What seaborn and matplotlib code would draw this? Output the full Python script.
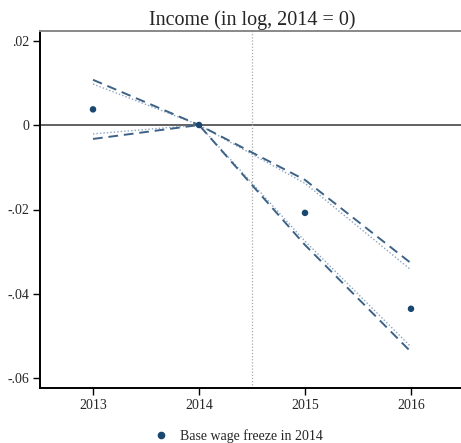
import matplotlib
matplotlib.use("Agg")
import matplotlib.pyplot as plt
import seaborn as sns
import pandas as pd
from matplotlib.lines import Line2D

sns.set_style("white")
plt.rcParams["font.family"] = ["Liberation Serif", "DejaVu Serif"]

# Event-study estimates, income in log (2014 = 0)
years = [2013, 2014, 2015, 2016]
estimate = [0.0037, 0.0, -0.0208, -0.0435]
ci_upper = [0.0107, 0.0, -0.0130, -0.0327]
ci_lower = [-0.0033, 0.0, -0.0284, -0.0537]
alt_upper = [0.0097, 0.0, -0.0138, -0.0343]
alt_lower = [-0.0021, 0.0, -0.0275, -0.0525]

ytick_vals = [0.02, 0.0, -0.02, -0.04, -0.06]
ytick_labels = [".02", "0", "-.02", "-.04", "-.06"]

navy = "#1a476f"
dash_col = "#3e6285"
dot_col = "#8aa4c0"

est_df = pd.DataFrame({"year": years, "estimate": estimate})

fig = plt.figure(figsize=(4.61, 4.43), dpi=100)
ax = fig.add_axes([40 / 461, 55 / 443, 424 / 461, 357 / 443])

ax.axhline(0, color="#555555", lw=1.3, zorder=1)
ax.axvline(2014.5, color="#aaaaaa", lw=0.9, ls=(0, (1, 1.5)), zorder=1)

for vals, col, ls, lw in [
    (alt_upper, dot_col, (0, (1, 1.5)), 1.0),
    (alt_lower, dot_col, (0, (1, 1.5)), 1.0),
    (ci_upper, dash_col, (0, (5, 3)), 1.4),
    (ci_lower, dash_col, (0, (5, 3)), 1.4),
]:
    sns.lineplot(x=years, y=vals, ax=ax, color=col, lw=lw, linestyle=ls,
                 zorder=2, legend=False)

sns.scatterplot(data=est_df, x="year", y="estimate", ax=ax, color=navy,
                s=22, edgecolor="none", zorder=3, legend=False)

ax.set_xlim(2012.5, 2016.5)
ax.set_ylim(-0.06225, 0.02225)
ax.set_xticks(years)
ax.set_xticklabels([str(y) for y in years], fontsize=10)
ax.set_yticks(ytick_vals)
ax.set_yticklabels(ytick_labels, fontsize=10)
ax.set_xlabel("")
ax.set_ylabel("")
ax.tick_params(axis="both", direction="out", length=5, width=1, color="black",
               left=True, bottom=True, pad=3)

for side in ["left", "bottom"]:
    ax.spines[side].set_color("black")
    ax.spines[side].set_linewidth(1.4)
ax.spines["top"].set_color("#888888")
ax.spines["top"].set_linewidth(1.4)
ax.spines["right"].set_visible(False)

ax.set_title("Income (in log, 2014 = 0)", fontsize=14.5, pad=4)

handle = Line2D([], [], marker="o", color=navy, ls="none", markersize=4.5)
fig.legend([handle], ["Base wage freeze in 2014"], loc="center",
           bbox_to_anchor=(235 / 461, 1 - 436 / 443), frameon=False,
           fontsize=10, handletextpad=0.3)

fig.savefig("out.png", dpi=100)
